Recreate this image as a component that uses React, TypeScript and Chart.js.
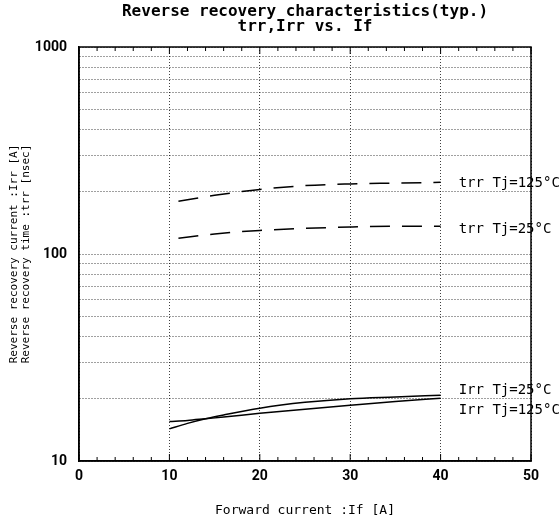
import React, { useEffect, useRef } from "react";
import { Chart, registerables } from "chart.js";

Chart.register(...registerables);

const titleLines = ["Reverse recovery characteristics(typ.)", "trr,Irr vs. If"];
const xAxisTitle = "Forward current :If [A]";
const yAxisTitle = ["Reverse recovery current :Irr [A]", "Reverse recovery time :trr [nsec]"];

const xMin = 0;
const xMax = 50;
const xStep = 10;
const xMinorStep = 2;
const yMin = 10;
const yMax = 1000;
const yLabelValues = [10, 100, 1000];
const yGridValues = [10, 20, 30, 40, 50, 60, 70, 80, 90, 100, 200, 300, 400, 500, 600, 700, 800, 900, 1000];

const trrX = [11, 15, 20, 25, 30, 35, 40];
const trr125 = [180, 192, 205, 214, 218, 220, 222];
const trr25 = [119, 125, 130, 133, 135, 136, 136];

const irrX = [10, 12, 14, 16, 20, 25, 30, 35, 40];
const irr25 = [14.3, 15.2, 16.0, 16.7, 18.0, 19.2, 20.0, 20.4, 20.8];
const irr125 = [15.5, 15.7, 16.0, 16.3, 17.0, 17.8, 18.6, 19.4, 20.1];

const seriesNames = ["trr Tj=125°C", "trr Tj=25°C", "Irr Tj=25°C", "Irr Tj=125°C"];
const labelXValue = 42;
const labelYValues = [220, 132, 22.0, 17.6];

const MONO = "'DejaVu Sans Mono', 'Liberation Mono', monospace";
const TICKFONT = "Roboto, 'DejaVu Sans', sans-serif";

const pts = (xs: number[], ys: number[]) => xs.map((x, i) => ({ x, y: ys[i] }));

const framePlugin = {
  id: "frameAndText",
  afterDraw(chart: any) {
    const { ctx, chartArea, scales } = chart;
    const xs = scales.x;
    const ys = scales.y;
    ctx.save();
    ctx.strokeStyle = "#000";
    ctx.lineWidth = 1.5;
    ctx.setLineDash([]);
    ctx.strokeRect(chartArea.left, chartArea.top, chartArea.right - chartArea.left, chartArea.bottom - chartArea.top);
    ctx.lineWidth = 1;
    for (let v = xMin; v <= xMax; v += xMinorStep) {
      const px = xs.getPixelForValue(v);
      const len = v % xStep === 0 ? 7 : 4;
      ctx.beginPath();
      ctx.moveTo(px, chartArea.bottom);
      ctx.lineTo(px, chartArea.bottom - len);
      ctx.moveTo(px, chartArea.top);
      ctx.lineTo(px, chartArea.top + len);
      ctx.stroke();
    }
    ctx.fillStyle = "#000";
    ctx.textAlign = "center";
    ctx.textBaseline = "middle";
    ctx.font = `bold 16px ${MONO}`;
    const cx = (chartArea.left + chartArea.right) / 2;
    ctx.fillText(titleLines[0], cx, 12);
    ctx.fillText(titleLines[1], cx, 27);
    ctx.font = `14px ${MONO}`;
    ctx.textAlign = "left";
    seriesNames.forEach((name, i) => {
      ctx.fillText(name, xs.getPixelForValue(labelXValue), ys.getPixelForValue(labelYValues[i]));
    });
    ctx.restore();
  },
};

export default function App() {
  const ref = useRef<HTMLCanvasElement | null>(null);
  useEffect(() => {
    if (!ref.current) return;
    const gridColor = "rgba(0,0,0,0.75)";
    const chart = new Chart(ref.current, {
      type: "line",
      data: {
        datasets: [
          { label: seriesNames[0], data: pts(trrX, trr125), borderColor: "#000", borderWidth: 1.5, borderDash: [20, 12], pointRadius: 0, cubicInterpolationMode: "monotone" },
          { label: seriesNames[1], data: pts(trrX, trr25), borderColor: "#000", borderWidth: 1.5, borderDash: [20, 12], pointRadius: 0, cubicInterpolationMode: "monotone" },
          { label: seriesNames[2], data: pts(irrX, irr25), borderColor: "#000", borderWidth: 1.5, pointRadius: 0, cubicInterpolationMode: "monotone" },
          { label: seriesNames[3], data: pts(irrX, irr125), borderColor: "#000", borderWidth: 1.5, pointRadius: 0, cubicInterpolationMode: "monotone" },
        ],
      },
      options: {
        responsive: false,
        animation: false,
        layout: { padding: { top: 47, right: 29, left: 0, bottom: 0 } },
        plugins: { legend: { display: false }, title: { display: false }, tooltip: { enabled: false } },
        scales: {
          x: {
            type: "linear",
            min: xMin,
            max: xMax,
            ticks: { stepSize: xStep, color: "#000", font: { family: TICKFONT, size: 14, weight: "bold" }, padding: 7 },
            grid: { color: gridColor, drawTicks: false, lineWidth: 1 },
            border: { display: true, color: "#000", width: 1.5, dash: [1, 2] },
            title: { display: true, text: xAxisTitle, color: "#000", font: { family: MONO, size: 13 }, padding: { top: 0, bottom: 10 } },
            afterFit: (s: any) => { s.height = 67; },
          },
          y: {
            type: "logarithmic",
            min: yMin,
            max: yMax,
            afterBuildTicks: (s: any) => { s.ticks = yGridValues.map((v) => ({ value: v })); },
            ticks: {
              autoSkip: false,
              color: "#000",
              font: { family: TICKFONT, size: 14, weight: "bold" },
              padding: 12,
              callback: (v: any) => (yLabelValues.includes(Number(v)) ? String(v) : ""),
            },
            grid: { color: gridColor, drawTicks: false, lineWidth: 1 },
            border: { display: true, color: "#000", width: 1.5, dash: [1, 2] },
            title: { display: true, text: yAxisTitle, color: "#000", font: { family: MONO, size: 11, lineHeight: 1.1 }, padding: { top: 8, bottom: 0 } },
            afterFit: (s: any) => { s.width = 79; },
          },
        },
      },
      plugins: [framePlugin],
    } as any);
    return () => chart.destroy();
  }, []);
  return (
    <div style={{ position: "absolute", left: 0, top: 0, width: 560, height: 528, background: "#fff" }}>
      <canvas ref={ref} width={560} height={528} />
    </div>
  );
}
